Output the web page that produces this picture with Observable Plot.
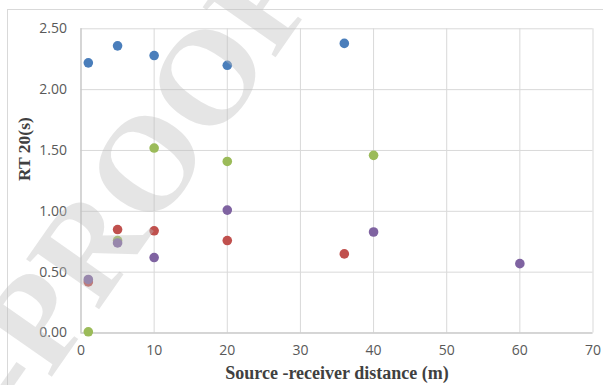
<!DOCTYPE html>
<html>
<head>
<meta charset="utf-8">
<script src="https://cdn.jsdelivr.net/npm/d3@7"></script>
<script src="https://cdn.jsdelivr.net/npm/@observablehq/plot@0.6"></script>
<style>
  html, body { margin: 0; padding: 0; background: #fff; }
  #chart { width: 603px; height: 385px; overflow: hidden; }
  #chart svg { overflow: hidden; }
</style>
</head>
<body>
<div id="chart"></div>
<script>
// RT20 (s) against source-receiver distance (m), four measurement series
const seriesNames = ["Series 1", "Series 2", "Series 3", "Series 4"];
const seriesColors = ["#4a7ebb", "#c0504d", "#9bbb59", "#7f63a1"];

const distance1 = [1, 5, 10, 20, 36];
const rt1 = [2.22, 2.36, 2.28, 2.20, 2.38];

const distance2 = [1, 5, 10, 20, 36];
const rt2 = [0.42, 0.85, 0.84, 0.76, 0.65];

const distance3 = [1, 5, 10, 20, 40];
const rt3 = [0.01, 0.76, 1.52, 1.41, 1.46];

const distance4 = [1, 5, 10, 20, 40, 60];
const rt4 = [0.44, 0.74, 0.62, 1.01, 0.83, 0.57];

const xTicks = [0, 10, 20, 30, 40, 50, 60, 70];
const yTicks = [0, 0.5, 1.0, 1.5, 2.0, 2.5];

const xTitle = "Source -receiver distance (m)";
const yTitle = "RT 20(s)";
const watermark = "JOURNAL PRE-PROOF";

const points = [
  [distance1, rt1], [distance2, rt2], [distance3, rt3], [distance4, rt4]
].flatMap(([xs, ys], i) => xs.map((x, j) => ({series: seriesNames[i], x, y: ys[j]})));

const tickFont = "'Open Sans', 'Liberation Sans', sans-serif";
const titleFont = "'Liberation Serif', 'DejaVu Serif', serif";

const plot = Plot.plot({
  width: 603,
  height: 385,
  marginLeft: 80.5,
  marginRight: 10.5,
  marginTop: 28.3,
  marginBottom: 52.5,
  style: {background: "transparent", overflow: "hidden"},
  x: {domain: [0, 70]},
  y: {domain: [0, 2.5]},
  color: {domain: seriesNames, range: seriesColors},
  marks: [
    Plot.gridX(xTicks, {stroke: "#d9d9d9", strokeOpacity: 1}),
    Plot.gridY(yTicks, {stroke: "#d9d9d9", strokeOpacity: 1}),
    Plot.ruleX([0], {stroke: "#bfbfbf"}),
    Plot.ruleY([0], {stroke: "#bfbfbf"}),
    Plot.axisX({
      ticks: xTicks, tickSize: 0, tickPadding: 12, label: null,
      tickFormat: d => String(d),
      fontSize: 14, fontFamily: tickFont, fill: "#595959"
    }),
    Plot.axisY({
      ticks: yTicks, tickSize: 0, tickPadding: 14, label: null,
      tickFormat: d => d.toFixed(2),
      fontSize: 14, fontFamily: tickFont, fill: "#595959"
    }),
    Plot.dot(points, {x: "x", y: "y", fill: "series", r: 4.8}),
    Plot.text([xTitle], {
      frameAnchor: "bottom", dy: 46, text: d => d,
      fontSize: 18, fontWeight: "bold", fontFamily: titleFont, fill: "#404040"
    }),
    Plot.text([yTitle], {
      frameAnchor: "left", dx: -57, rotate: -90, text: d => d,
      fontSize: 17.5, fontWeight: "bold", fontFamily: titleFont, fill: "#404040"
    }),
    Plot.text([watermark], {
      frameAnchor: "top-left", dx: 240, dy: -36.5, rotate: -55,
      textAnchor: "end", lineAnchor: "bottom", text: d => d,
      fontSize: 135, fontWeight: "bold", fontFamily: titleFont,
      fill: "#bebebe", fillOpacity: 0.4
    })
  ]
});

// outer chart-area border
d3.select(plot).insert("rect", ":first-child")
  .attr("x", 7.5).attr("y", 9.5)
  .attr("width", 700).attr("height", 500)
  .attr("fill", "#fff").attr("stroke", "#d9d9d9");

document.getElementById("chart").append(plot);
</script>
</body>
</html>
